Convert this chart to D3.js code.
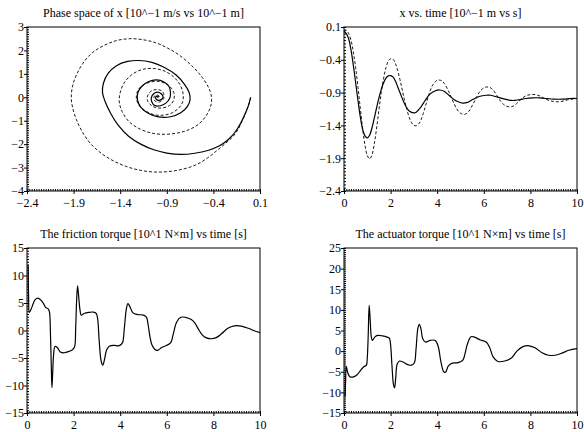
<!DOCTYPE html>
<html>
<head>
<meta charset="utf-8">
<script src="https://cdn.jsdelivr.net/npm/d3@7"></script>
<style>
  body { margin: 0; background: #fff; }
  text { font-family: "Liberation Serif", "Times New Roman", serif; }
</style>
</head>
<body>
<div id="chart"></div>
<script>
// phase space [x, v]
const phaseSolid = [[0.0, 0.0], [-0.02, -0.3], [-0.05, -0.62], [-0.1, -1.05], [-0.16, -1.45], [-0.24, -1.8], [-0.34, -2.08], [-0.46, -2.27], [-0.6, -2.39], [-0.75, -2.44], [-0.9, -2.38], [-1.04, -2.24], [-1.18, -2.0], [-1.31, -1.66], [-1.42, -1.2], [-1.5, -0.7], [-1.56, -0.2], [-1.59, 0.2], [-1.58, 0.6], [-1.53, 1.02], [-1.44, 1.35], [-1.32, 1.53], [-1.2, 1.57], [-1.06, 1.49], [-0.93, 1.28], [-0.8, 0.95], [-0.71, 0.55], [-0.66, 0.2], [-0.65, -0.1], [-0.68, -0.4], [-0.75, -0.66], [-0.86, -0.83], [-0.99, -0.84], [-1.1, -0.68], [-1.18, -0.42], [-1.215, -0.1], [-1.21, 0.2], [-1.17, 0.46], [-1.1, 0.66], [-1.01, 0.74], [-0.93, 0.65], [-0.875, 0.45], [-0.86, 0.2], [-0.87, -0.05], [-0.91, -0.25], [-0.97, -0.36], [-1.03, -0.35], [-1.06, -0.2], [-1.065, 0.0], [-1.04, 0.15], [-1.0, 0.22], [-0.96, 0.15], [-0.94, 0.02], [-0.96, -0.1], [-1.0, -0.12], [-1.02, -0.04], [-1.01, 0.05], [-0.99, 0.03], [-1.0, 0.0]];
const phaseDashed = [[0.0, 0.0], [-0.02, -0.3], [-0.05, -0.62], [-0.09, -1.0], [-0.14, -1.4], [-0.2, -1.72], [-0.28, -2.0], [-0.37, -2.3], [-0.46, -2.58], [-0.58, -2.87], [-0.72, -3.06], [-0.88, -3.17], [-1.03, -3.19], [-1.18, -3.12], [-1.33, -2.96], [-1.47, -2.72], [-1.6, -2.4], [-1.72, -1.97], [-1.81, -1.45], [-1.87, -0.95], [-1.91, -0.45], [-1.925, 0.0], [-1.91, 0.5], [-1.87, 0.95], [-1.8, 1.45], [-1.7, 1.9], [-1.57, 2.22], [-1.44, 2.42], [-1.3, 2.5], [-1.16, 2.46], [-1.02, 2.33], [-0.9, 2.12], [-0.76, 1.78], [-0.62, 1.3], [-0.52, 0.85], [-0.45, 0.4], [-0.42, 0.0], [-0.43, -0.4], [-0.48, -0.8], [-0.56, -1.15], [-0.66, -1.38], [-0.78, -1.52], [-0.92, -1.58], [-1.06, -1.53], [-1.2, -1.33], [-1.31, -1.02], [-1.38, -0.6], [-1.41, -0.2], [-1.4, 0.2], [-1.36, 0.6], [-1.28, 0.95], [-1.17, 1.18], [-1.05, 1.23], [-0.93, 1.13], [-0.83, 0.88], [-0.76, 0.55], [-0.725, 0.15], [-0.73, -0.2], [-0.77, -0.45], [-0.84, -0.66], [-0.93, -0.76], [-1.03, -0.75], [-1.12, -0.6], [-1.19, -0.38], [-1.225, -0.1], [-1.22, 0.2], [-1.18, 0.45], [-1.1, 0.62], [-1.0, 0.68], [-0.91, 0.58], [-0.85, 0.38], [-0.82, 0.12], [-0.83, -0.15], [-0.87, -0.35], [-0.94, -0.45], [-1.02, -0.44], [-1.08, -0.3], [-1.11, -0.1], [-1.1, 0.12], [-1.06, 0.28], [-1.0, 0.33], [-0.95, 0.26], [-0.93, 0.08], [-0.94, -0.1], [-0.98, -0.2], [-1.02, -0.18], [-1.04, -0.06], [-1.03, 0.06], [-1.0, 0.1], [-0.98, 0.03], [-0.99, -0.04], [-1.0, 0.0]];

// x vs time [t, x]
const posSolid = [[0, 0.03], [0.1, 0.0], [0.2, -0.08], [0.3, -0.25], [0.4, -0.48], [0.5, -0.75], [0.6, -1.02], [0.7, -1.27], [0.8, -1.46], [0.9, -1.56], [1.0, -1.59], [1.1, -1.55], [1.2, -1.44], [1.3, -1.29], [1.4, -1.13], [1.5, -0.98], [1.6, -0.85], [1.7, -0.75], [1.8, -0.68], [1.9, -0.645], [2.0, -0.64], [2.1, -0.66], [2.2, -0.72], [2.4, -0.9], [2.6, -1.07], [2.8, -1.18], [3.0, -1.21], [3.1, -1.2], [3.3, -1.12], [3.5, -1.01], [3.7, -0.92], [3.9, -0.875], [4.1, -0.86], [4.3, -0.88], [4.5, -0.94], [4.7, -1.0], [4.9, -1.04], [5.1, -1.06], [5.3, -1.05], [5.5, -1.01], [5.8, -0.96], [6.1, -0.94], [6.3, -0.94], [6.6, -0.97], [6.9, -1.0], [7.2, -1.02], [7.5, -1.01], [7.8, -0.99], [8.1, -0.98], [8.4, -0.98], [8.7, -0.99], [9.0, -1.0], [9.4, -1.0], [9.7, -0.99], [10, -0.99]];
const posDashed = [[0, 0.06], [0.1, 0.05], [0.2, 0.0], [0.3, -0.1], [0.4, -0.28], [0.5, -0.52], [0.6, -0.82], [0.7, -1.14], [0.8, -1.45], [0.9, -1.7], [1.0, -1.86], [1.1, -1.91], [1.2, -1.85], [1.3, -1.68], [1.4, -1.44], [1.5, -1.16], [1.6, -0.9], [1.7, -0.68], [1.8, -0.52], [1.9, -0.42], [2.0, -0.385], [2.1, -0.39], [2.2, -0.45], [2.3, -0.56], [2.4, -0.7], [2.5, -0.86], [2.6, -1.02], [2.7, -1.16], [2.8, -1.28], [2.9, -1.36], [3.0, -1.4], [3.1, -1.405], [3.2, -1.38], [3.3, -1.32], [3.4, -1.22], [3.5, -1.1], [3.6, -0.98], [3.7, -0.87], [3.8, -0.79], [3.9, -0.74], [4.0, -0.71], [4.1, -0.71], [4.2, -0.72], [4.3, -0.76], [4.45, -0.85], [4.6, -0.97], [4.75, -1.09], [4.9, -1.18], [5.05, -1.225], [5.2, -1.23], [5.35, -1.19], [5.5, -1.1], [5.65, -1.0], [5.8, -0.9], [5.95, -0.84], [6.1, -0.815], [6.25, -0.82], [6.4, -0.86], [6.55, -0.94], [6.7, -1.02], [6.85, -1.08], [7.0, -1.11], [7.2, -1.115], [7.4, -1.07], [7.6, -1.0], [7.8, -0.95], [8.0, -0.93], [8.2, -0.93], [8.4, -0.95], [8.6, -0.99], [8.8, -1.02], [9.0, -1.035], [9.2, -1.04], [9.4, -1.03], [9.6, -1.01], [9.8, -1.0], [10, -0.99]];

// torques [t, value]
const friction = [[0.05, 11.9], [0.07, 6], [0.1, 3.3], [0.17, 3.8], [0.26, 4.8], [0.35, 5.6], [0.47, 5.9], [0.6, 5.5], [0.71, 4.9], [0.8, 4.2], [0.92, 3.9], [0.97, 3.2], [1.0, 0.5], [1.04, -6], [1.07, -10.4], [1.1, -8], [1.14, -4.5], [1.2, -2.9], [1.3, -3.1], [1.43, -3.9], [1.6, -4.05], [1.8, -3.8], [1.95, -3.5], [2.04, -3.0], [2.09, 0.5], [2.13, 5.5], [2.17, 8.1], [2.21, 6.6], [2.27, 3.9], [2.33, 2.8], [2.45, 3.1], [2.65, 3.3], [2.85, 3.35], [2.97, 3.1], [3.03, 2.2], [3.1, -2.0], [3.18, -5.5], [3.25, -6.3], [3.32, -5.4], [3.42, -3.5], [3.55, -2.8], [3.75, -2.7], [3.92, -2.8], [4.05, -2.5], [4.11, -2.1], [4.18, 0.5], [4.26, 3.8], [4.33, 4.9], [4.42, 4.3], [4.55, 3.2], [4.75, 2.9], [5.0, 2.8], [5.13, 2.4], [5.2, 1.0], [5.28, -1.2], [5.36, -2.6], [5.48, -3.4], [5.6, -3.6], [5.78, -3.1], [6.0, -2.7], [6.17, -2.2], [6.28, -0.6], [6.42, 1.5], [6.6, 2.4], [6.8, 2.4], [7.05, 2.0], [7.2, 1.4], [7.35, 0.3], [7.52, -0.8], [7.7, -1.35], [7.92, -1.5], [8.12, -1.3], [8.35, -0.6], [8.62, 0.4], [8.9, 0.85], [9.2, 0.8], [9.5, 0.4], [9.78, -0.1], [10, -0.4]];
const actuator = [[0.05, -11], [0.07, -7], [0.1, -3.7], [0.16, -5.2], [0.25, -6.2], [0.38, -6.3], [0.55, -5.8], [0.72, -4.6], [0.85, -3.8], [0.96, -3.4], [1.0, -1.5], [1.04, 4], [1.08, 11.1], [1.12, 8], [1.17, 3.5], [1.22, 2.6], [1.32, 3.4], [1.45, 3.8], [1.65, 3.7], [1.85, 3.4], [1.95, 3.1], [2.0, 1.5], [2.06, -3.6], [2.12, -8], [2.17, -8.9], [2.22, -6.5], [2.28, -3.2], [2.38, -2.4], [2.55, -2.7], [2.75, -3.3], [2.9, -3.4], [3.02, -2.8], [3.09, 0.4], [3.17, 5.5], [3.23, 6.5], [3.3, 5.5], [3.38, 3.0], [3.5, 2.2], [3.7, 2.6], [3.92, 2.6], [4.05, 1.0], [4.15, -2.3], [4.28, -5.0], [4.36, -5.1], [4.48, -3.6], [4.65, -2.9], [4.9, -2.8], [5.1, -2.2], [5.2, -0.5], [5.3, 1.8], [5.45, 3.5], [5.6, 3.4], [5.85, 2.7], [6.1, 2.2], [6.25, 0.9], [6.4, -1.4], [6.6, -2.5], [6.9, -2.4], [7.2, -1.6], [7.42, 0.0], [7.68, 1.1], [7.9, 1.35], [8.2, 0.8], [8.5, -0.4], [8.78, -1.0], [9.05, -1.0], [9.35, -0.5], [9.65, 0.2], [10, 0.6]];

// tick labels
const phaseXTicks = [-2.4, -1.9, -1.4, -0.9, -0.4, 0.1];
const phaseYTicks = [3, 2, 1, 0, -1, -2, -3, -4];
const timeTicks = [0, 2, 4, 6, 8, 10];
const posYTicks = [0.1, -0.4, -0.9, -1.4, -1.9, -2.4];
const frictionYTicks = [15, 10, 5, 0, -5, -10, -15];
const actuatorYTicks = [25, 20, 15, 10, 5, 0, -5, -10, -15];

const titles = [
  'Phase space of x [10^\u22121 m/s vs 10^\u22121 m]',
  'x vs. time [10^\u22121 m vs s]',
  'The friction torque [10^1 N\u00d7m] vs time [s]',
  'The actuator torque [10^1 N\u00d7m] vs time [s]'
];

const serif = '"Liberation Serif", "Times New Roman", serif';

const svg = d3.select('#chart')
  .append('svg')
  .attr('width', 584)
  .attr('height', 432)
  .style('font-family', serif);

function minorTicks(domain, step) {
  const lo = Math.min(domain[0], domain[1]), hi = Math.max(domain[0], domain[1]);
  const n = Math.round((hi - lo) / step);
  return d3.range(n + 1).map(i => lo + i * step);
}

function panel(box, cfg) {
  const x = d3.scaleLinear().domain(cfg.xDomain).range([box.left, box.right]);
  const y = d3.scaleLinear().domain(cfg.yDomain).range([box.bottom, box.top]);
  const g = svg.append('g');

  g.append('text')
    .attr('x', (box.left + box.right) / 2)
    .attr('y', box.top - 10)
    .attr('text-anchor', 'middle')
    .style('font-family', serif)
    .style('font-size', '12px')
    .text(cfg.title);

  const line = d3.line()
    .x(d => x(d[0]))
    .y(d => y(d[1]))
    .curve(d3.curveCatmullRom.alpha(0.5));

  cfg.series.forEach(s => {
    g.append('path')
      .datum(s.data)
      .attr('fill', 'none')
      .attr('stroke', '#000')
      .attr('stroke-width', s.dash ? 0.9 : 1.2)
      .attr('stroke-dasharray', s.dash || null)
      .attr('d', line);
  });

  // minor ticks, inward
  g.append('g')
    .attr('transform', `translate(0,${box.bottom})`)
    .call(d3.axisBottom(x).tickValues(minorTicks(cfg.xDomain, cfg.xMinor)).tickSize(-2).tickFormat(''))
    .call(a => a.select('.domain').remove());
  g.append('g')
    .attr('transform', `translate(${box.left},0)`)
    .call(d3.axisLeft(y).tickValues(minorTicks(cfg.yDomain, cfg.yMinor)).tickSize(-2).tickFormat(''))
    .call(a => a.select('.domain').remove());

  // major ticks and labels
  const xa = g.append('g')
    .attr('transform', `translate(0,${box.bottom})`)
    .call(d3.axisBottom(x).tickValues(cfg.xTicks).tickSize(3).tickPadding(4).tickFormat(cfg.xFormat));
  const ya = g.append('g')
    .attr('transform', `translate(${box.left},0)`)
    .call(d3.axisLeft(y).tickValues(cfg.yTicks).tickSize(3).tickPadding(0).tickFormat(cfg.yFormat));
  [xa, ya].forEach(a => {
    a.attr('font-family', null).attr('font-size', null);
    a.select('.domain').remove();
    a.selectAll('text')
      .style('font-family', serif)
      .style('font-size', '12px')
      .attr('fill', '#000');
  });

  g.append('rect')
    .attr('x', box.left)
    .attr('y', box.top)
    .attr('width', box.right - box.left)
    .attr('height', box.bottom - box.top)
    .attr('fill', 'none')
    .attr('stroke', '#000')
    .attr('stroke-width', 1);
}

const f1 = d3.format('.1f');
const f0 = d3.format('d');

panel({ left: 27, right: 260, top: 27, bottom: 191 }, {
  title: titles[0],
  xDomain: [-2.4, 0.1], yDomain: [-4, 3],
  xTicks: phaseXTicks, yTicks: phaseYTicks,
  xMinor: 0.025, yMinor: 0.1,
  xFormat: f1, yFormat: f0,
  series: [{ data: phaseDashed, dash: '3,2' }, { data: phaseSolid }]
});

panel({ left: 344, right: 577, top: 27, bottom: 191 }, {
  title: titles[1],
  xDomain: [0, 10], yDomain: [-2.4, 0.1],
  xTicks: timeTicks, yTicks: posYTicks,
  xMinor: 0.1, yMinor: 0.05,
  xFormat: f0, yFormat: f1,
  series: [{ data: posDashed, dash: '3,2' }, { data: posSolid }]
});

panel({ left: 27, right: 260, top: 248, bottom: 413 }, {
  title: titles[2],
  xDomain: [0, 10], yDomain: [-15, 15],
  xTicks: timeTicks, yTicks: frictionYTicks,
  xMinor: 0.1, yMinor: 0.5,
  xFormat: f0, yFormat: f0,
  series: [{ data: friction }]
});

panel({ left: 344, right: 577, top: 248, bottom: 413 }, {
  title: titles[3],
  xDomain: [0, 10], yDomain: [-15, 25],
  xTicks: timeTicks, yTicks: actuatorYTicks,
  xMinor: 0.1, yMinor: 0.5,
  xFormat: f0, yFormat: f0,
  series: [{ data: actuator }]
});
</script>
</body>
</html>
